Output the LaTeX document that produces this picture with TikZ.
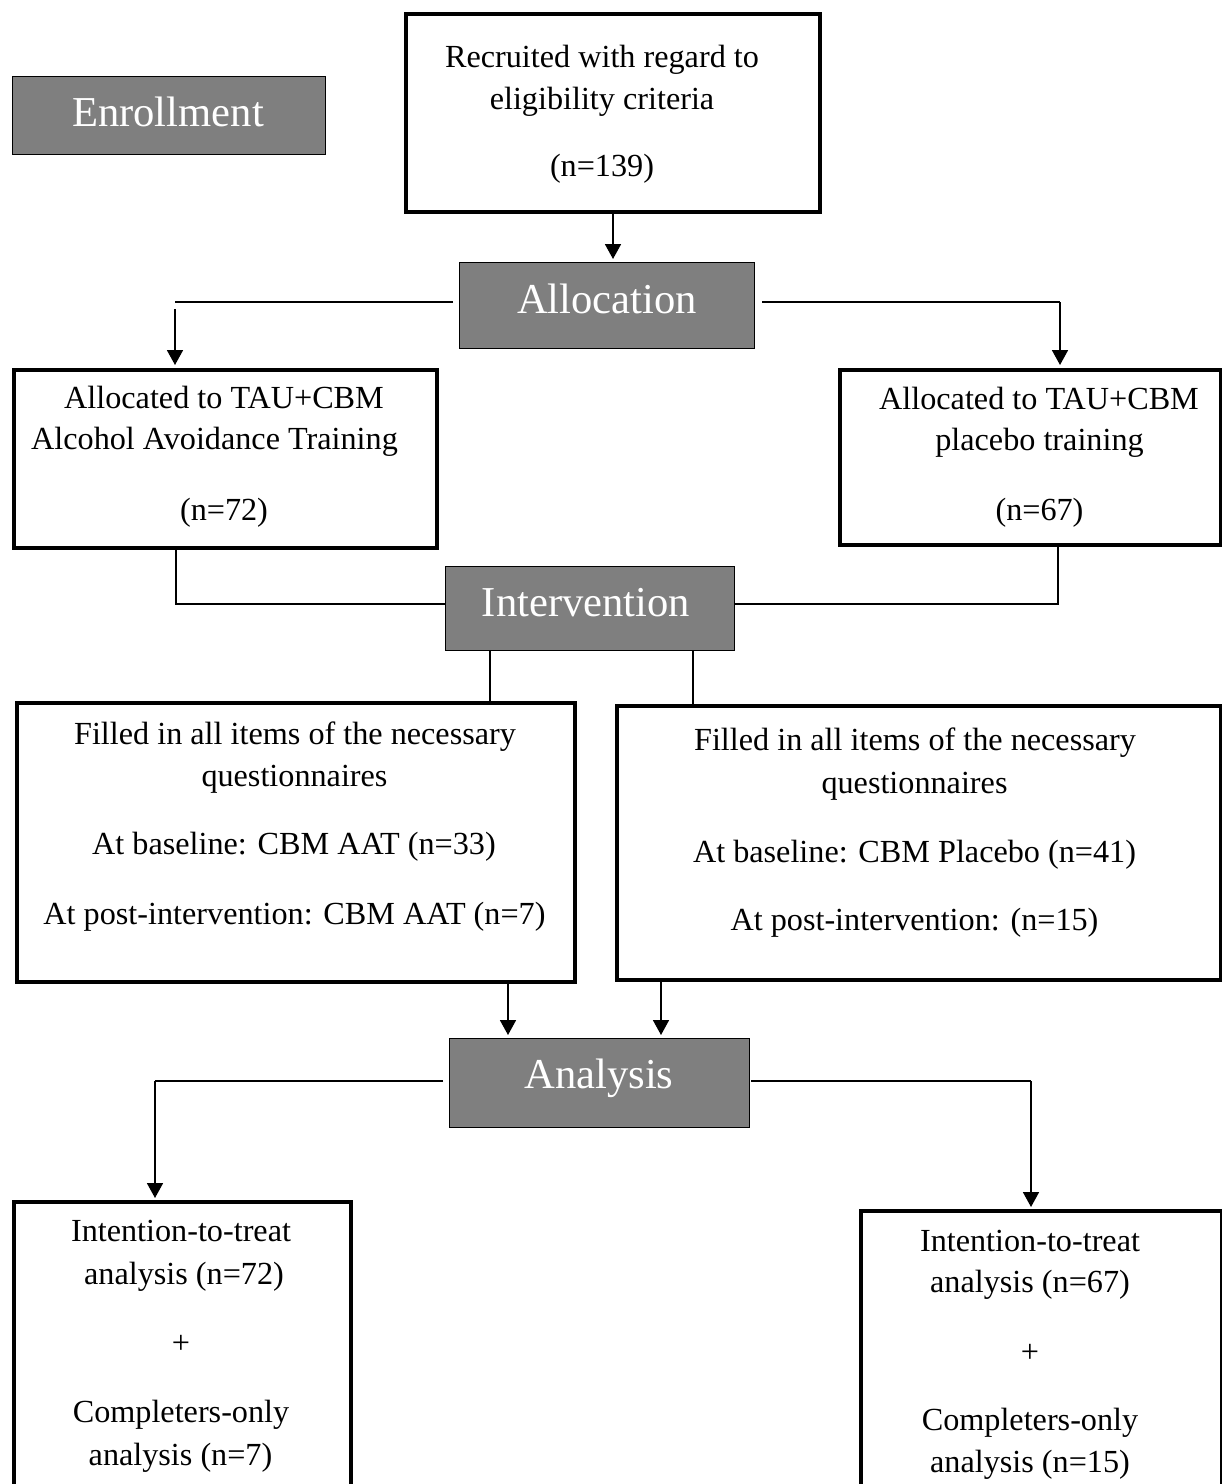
\documentclass[tikz,border=0pt]{standalone}
\usepackage{fontspec}
\setmainfont{Liberation Serif}
\usetikzlibrary{arrows.meta}
\definecolor{headgray}{RGB}{127,127,127}
\begin{document}
\begin{tikzpicture}[x=1pt,y=-1pt,
  wbox/.style={draw, line width=4pt, inner sep=0pt, anchor=north west},
  gbox/.style={draw, line width=1.3pt, fill=headgray, inner sep=0pt, anchor=north west},
  head/.style={anchor=base, inner sep=0pt, text=white, font=\fontsize{42.6}{50}\selectfont},
  txt/.style={anchor=base, inner sep=0pt, font=\fontsize{32.2}{38}\selectfont},
  conn/.style={line width=1.8pt},
  arr/.style={line width=1.8pt, -{Triangle[width=16pt,length=15pt]}},
]
\useasboundingbox[fill=white] (0,0) rectangle (1222,1484);

% heading boxes
\node[gbox, minimum width=313pt, minimum height=78pt] (enr) at (12,76) {};
\node[head] (enrT) at (168,126) {Enrollment};
\node[gbox, minimum width=295pt, minimum height=86pt] (alloc) at (459,262) {};
\node[head] (allocT) at (607,313) {Allocation};
\node[gbox, minimum width=289pt, minimum height=84pt] (interv) at (445,566) {};
\node[head] (intervT) at (586,616) {Intervention};
\node[gbox, minimum width=300pt, minimum height=89pt] (anal) at (449,1038) {};
\node[head] (analT) at (599,1088) {Analysis};

% white boxes
\node[wbox, minimum width=414pt, minimum height=198pt] (rec) at (404,12) {};
\node[txt] (rec1) at (602,67) {Recruited with regard to};
\node[txt] (rec2) at (602,109) {eligibility criteria};
\node[txt] (rec3) at (602,176) {(n=139)};

\node[wbox, minimum width=423pt, minimum height=178pt] (aloL) at (12,368) {};
\node[txt] (aL1) at (224,408) {Allocated to TAU+CBM};
\node[txt] (aL2) at (214.5,449) {Alcohol Avoidance Training};
\node[txt] (aL3) at (224,520) {(n=72)};

\node[wbox, minimum width=381pt, minimum height=175pt] (aloR) at (838,368) {};
\node[txt] (aR1) at (1039,409) {Allocated to TAU+CBM};
\node[txt] (aR2) at (1039.5,450) {placebo training};
\node[txt] (aR3) at (1039.5,520) {(n=67)};

\node[wbox, minimum width=558pt, minimum height=279pt] (filL) at (15,701) {};
\node[txt] (fL1) at (295,744) {Filled in all items of the necessary};
\node[txt] (fL2) at (294.5,786) {questionnaires};
\node[txt] (fL3) at (294,854) {At baseline: CBM AAT (n=33)};
\node[txt] (fL4) at (294.5,924) {At post-intervention: CBM AAT (n=7)};

\node[wbox, minimum width=604pt, minimum height=274pt] (filR) at (615,704) {};
\node[txt] (fR1) at (915,750) {Filled in all items of the necessary};
\node[txt] (fR2) at (914.5,793) {questionnaires};
\node[txt] (fR3) at (914.5,862) {At baseline: CBM Placebo (n=41)};
\node[txt] (fR4) at (914.5,930) {At post-intervention: (n=15)};

\node[wbox, minimum width=337pt, minimum height=320pt] (botL) at (12,1200) {};
\node[txt] (bL1) at (181,1241) {Intention-to-treat};
\node[txt] (bL2) at (184,1284) {analysis (n=72)};
\node[txt] (bL3) at (181,1353) {+};
\node[txt] (bL4) at (181,1422) {Completers-only};
\node[txt] (bL5) at (180.5,1465) {analysis (n=7)};

\node[wbox, minimum width=361pt, minimum height=320pt] (botR) at (859,1209) {};
\node[txt] (bR1) at (1030,1251) {Intention-to-treat};
\node[txt] (bR2) at (1030,1292) {analysis (n=67)};
\node[txt] (bR3) at (1030,1362) {+};
\node[txt] (bR4) at (1030,1430) {Completers-only};
\node[txt] (bR5) at (1030,1472) {analysis (n=15)};

% coordinates
\coordinate (c0) at (613,0);
\coordinate (aLs) at (453,302);
\coordinate (aLc) at (175,302);
\coordinate (aLd) at (175,309);
\coordinate (aRs) at (762,302);
\coordinate (aRc) at (1060,302);
\coordinate (iL) at (176,604);
\coordinate (iR) at (1058,604);
\coordinate (iD1) at (490,0);
\coordinate (iD2) at (693,0);
\coordinate (an1) at (508,0);
\coordinate (an2) at (661,0);
\coordinate (bLs) at (443,1081);
\coordinate (bLc) at (155,1081);
\coordinate (bRs) at (751,1081);
\coordinate (bRc) at (1031,1081);

% connectors
\draw[arr] (rec.south -| c0) -- ([yshift=3pt]alloc.north -| c0);
\draw[conn] (aLs) -- (aLc);
\draw[arr] (aLd) -- ([yshift=3pt]aloL.north -| aLd);
\draw[conn] (aRs) -- (aRc);
\draw[arr] (aRc) -- ([yshift=3pt]aloR.north -| aRc);

\draw[conn] (aloL.south -| iL) -- (iL) -- (interv.west |- iL);
\draw[conn] (aloR.south -| iR) -- (iR) -- (interv.east |- iR);
\draw[conn] (interv.south -| iD1) -- (filL.north -| iD1);
\draw[conn] (interv.south -| iD2) -- (filR.north -| iD2);

\draw[arr] (filL.south -| an1) -- ([yshift=3pt]anal.north -| an1);
\draw[arr] (filR.south -| an2) -- ([yshift=3pt]anal.north -| an2);

\draw[conn] (bLs) -- (bLc);
\draw[arr] (bLc) -- ([yshift=2pt]botL.north -| bLc);
\draw[conn] (bRs) -- (bRc);
\draw[arr] (bRc) -- ([yshift=2pt]botR.north -| bRc);
\end{tikzpicture}
\end{document}
